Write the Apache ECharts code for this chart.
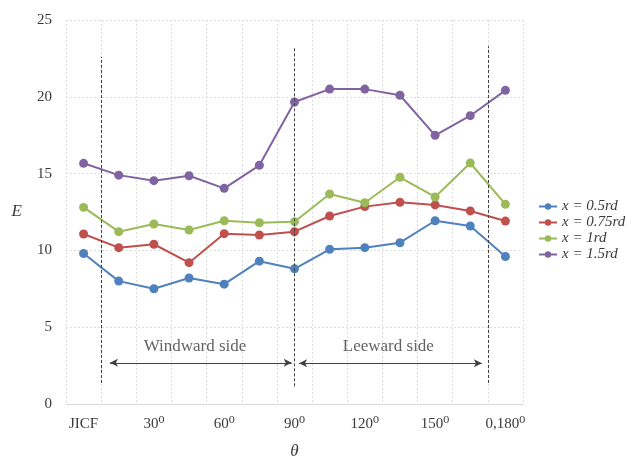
<!DOCTYPE html>
<html>
<head>
<meta charset="utf-8">
<script src="https://cdn.jsdelivr.net/npm/echarts@6/dist/echarts.min.js"></script>
<style>html,body{margin:0;padding:0;background:#fff;}#c{width:641px;height:461px;}</style>
</head>
<body>
<div id="c"></div>
<script>
const categories = ['JICF','15\u2070','30\u2070','45\u2070','60\u2070','75\u2070','90\u2070','105\u2070','120\u2070','135\u2070','150\u2070','165\u2070','0,180\u2070'];
const seriesNames = ['x = 0.5rd','x = 0.75rd','x = 1rd','x = 1.5rd'];
const s05 = [9.8, 8.0, 7.5, 8.2, 7.8, 9.3, 8.8, 10.07, 10.18, 10.5, 11.93, 11.59, 9.6];
const s075 = [11.07, 10.18, 10.4, 9.2, 11.09, 11.0, 11.22, 12.24, 12.85, 13.13, 12.96, 12.57, 11.91];
const s1 = [12.8, 11.22, 11.72, 11.33, 11.93, 11.8, 11.87, 13.67, 13.1, 14.76, 13.48, 15.69, 13.0];
const s15 = [15.67, 14.9, 14.54, 14.86, 14.04, 15.54, 19.66, 20.5, 20.5, 20.1, 17.49, 18.77, 20.42];
const yTicks = {min: 0, max: 25, interval: 5};
// annotation positions in category-slot units (0..13) and E units
const dividerX = [1, 6.5, 12];
const dividerY = [[1.37, 22.6], [1.15, 23.2], [1.37, 23.3]];
const arrows = [[1.25, 6.42, 2.68], [6.63, 11.83, 2.66]];
const sideLabels = [['Windward side', 3.67, 3.75], ['Leeward side', 9.17, 3.75]];

const colors = ['#4F81BD','#C0504D','#9BBB59','#8064A2'];
const values = [s05, s075, s1, s15];
const serif = '"Liberation Serif","DejaVu Serif",serif';
const txt = '#3a3a3a';

const dataSeries = values.map((v, i) => ({
  name: seriesNames[i], type: 'line', data: v,
  symbol: 'circle', symbolSize: 9,
  itemStyle: {color: colors[i]},
  lineStyle: {color: colors[i], width: 2},
  z: 3
}));

const chart = echarts.init(document.getElementById('c'), null, {renderer: 'canvas'});
chart.setOption({
  animation: false,
  backgroundColor: '#fff',
  grid: {left: 66, right: 118, top: 20, bottom: 57, containLabel: false, outerBoundsMode: 'none'},
  legend: {
    orient: 'vertical', left: 533, top: 194,
    itemWidth: 18, itemHeight: 8, itemGap: 1,
    data: seriesNames,
    textStyle: {fontFamily: serif, fontStyle: 'italic', fontSize: 15, color: txt, lineHeight: 13.5}
  },
  xAxis: [{
    type: 'category', data: categories, boundaryGap: true,
    name: '\u03B8', nameLocation: 'middle', nameGap: 39,
    nameTextStyle: {fontFamily: serif, fontStyle: 'italic', fontSize: 17, color: txt},
    axisLine: {lineStyle: {color: '#d9d9d9', width: 1}},
    axisTick: {show: false},
    axisLabel: {interval: 1, fontFamily: serif, fontSize: 15, color: txt, margin: 13},
    splitLine: {show: true, interval: 0, lineStyle: {color: '#dddddd', type: [2, 2], width: 1}}
  }, {
    type: 'value', min: 0, max: 13, show: false
  }],
  yAxis: {
    type: 'value', min: yTicks.min, max: yTicks.max, interval: yTicks.interval,
    name: 'E', nameLocation: 'middle', nameGap: 44, nameRotate: 0,
    nameTextStyle: {fontFamily: serif, fontStyle: 'italic', fontSize: 17, color: txt},
    axisLine: {show: false}, axisTick: {show: false},
    axisLabel: {fontFamily: serif, fontSize: 15, color: txt, margin: 14},
    splitLine: {lineStyle: {color: '#dddddd', type: [2, 2], width: 1}}
  },
  series: dataSeries.concat([
    {
      type: 'scatter', xAxisIndex: 1, symbolSize: 0, silent: true,
      data: sideLabels.map(l => ({value: [l[1], l[2]], label: {show: true, formatter: l[0]}})),
      label: {show: true, position: 'inside', fontFamily: serif, fontSize: 17, color: txt},
      markLine: {
        silent: true, symbol: ['none', 'none'], label: {show: false},
        lineStyle: {color: '#404040', type: [3, 2], width: 1},
        data: dividerX.map((x, i) => [{coord: [x, dividerY[i][0]]}, {coord: [x, dividerY[i][1]]}])
      }
    },
    {
      type: 'scatter', xAxisIndex: 1, symbolSize: 0, silent: true, data: [],
      markLine: {
        silent: true, symbol: ['arrow', 'arrow'], symbolSize: [6, 8], label: {show: false},
        lineStyle: {color: '#404040', type: 'solid', width: 1},
        data: arrows.map(a => [{coord: [a[0], a[2]]}, {coord: [a[1], a[2]]}])
      }
    }
  ])
});
</script>
</body>
</html>
